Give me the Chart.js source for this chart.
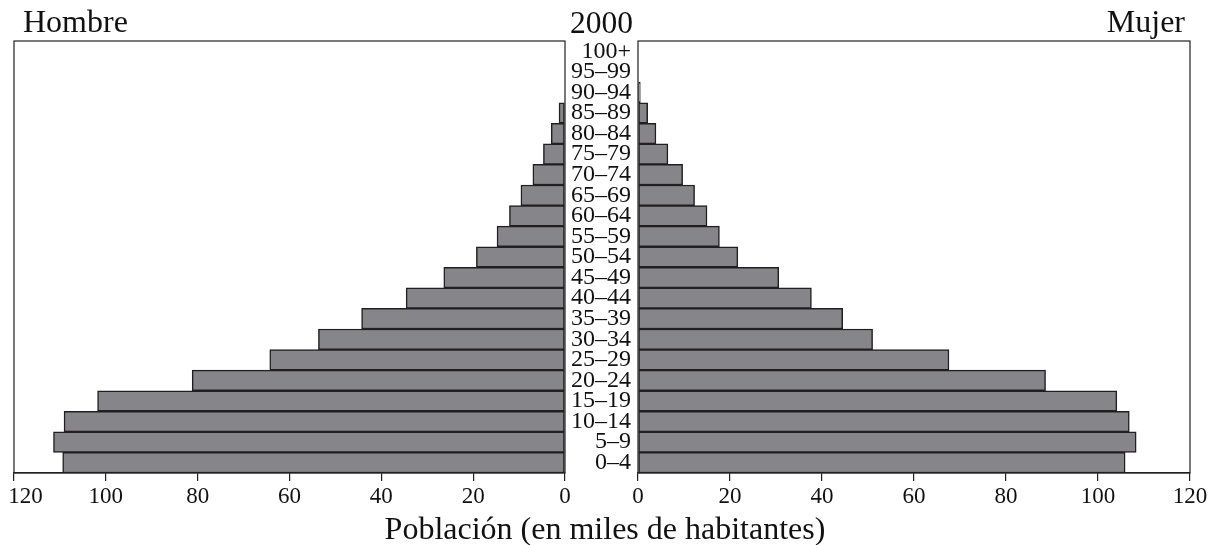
<!DOCTYPE html>
<html>
<head>
<meta charset="utf-8">
<script src="https://cdn.jsdelivr.net/npm/chart.js@4/dist/chart.umd.min.js"></script>
<style>
  body { margin: 0; background: #fff; }
  #wrap { position: relative; width: 1217px; height: 545px; overflow: hidden; font-family: "Liberation Serif", "Times New Roman", serif; color: #111; }
  canvas { position: absolute; top: 0; }
  .txt { position: absolute; white-space: nowrap; line-height: 1; }
</style>
</head>
<body>
<div id="wrap">
  <canvas id="hombre" width="580" height="545" style="left:0"></canvas>
  <canvas id="mujer" width="657" height="545" style="left:560px"></canvas>
  <div class="txt" style="left:23px; top:5px; font-size:32px">Hombre</div>
  <div class="txt" style="left:570px; top:7px; font-size:31.5px">2000</div>
  <div class="txt" style="right:32px; top:5px; font-size:32px">Mujer</div>
  <div class="txt" style="left:0; width:1210px; text-align:center; top:512px; font-size:32px">Población (en miles de habitantes)</div>
</div>
<script>
// age groups, bottom to top
var ageGroups = ["0–4","5–9","10–14","15–19","20–24","25–29","30–34","35–39","40–44","45–49",
                 "50–54","55–59","60–64","65–69","70–74","75–79","80–84","85–89","90–94","95–99","100+"];
// thousands of inhabitants
var hombres = [109.4, 111.4, 109.1, 101.8, 81.2, 64.3, 53.7, 44.3, 34.6, 26.4,
               19.3, 14.8, 12.1, 9.6, 7.0, 4.7, 3.0, 1.3, 0, 0, 0];
var mujeres = [105.9, 108.3, 106.8, 104.1, 88.6, 67.6, 51.0, 44.5, 37.7, 30.6,
               21.7, 17.7, 15.0, 12.3, 9.7, 6.5, 3.9, 2.1, 0.5, 0, 0];
var xTicks = [0, 20, 40, 60, 80, 100, 120];

var barFill = 'rgb(133,133,138)';
var lineCol = '#231f20';
var serif = "'Liberation Serif', 'Times New Roman', serif";

// draws the frame round the plot area
var frame = {
  id: 'frame',
  afterDatasetsDraw: function (chart) {
    var a = chart.chartArea, c = chart.ctx;
    c.save();
    c.strokeStyle = lineCol;
    c.lineWidth = 1.2;
    c.strokeRect(a.left, a.top, a.right - a.left, a.bottom - a.top);
    c.restore();
  }
};

function makeChart(id, values, left) {
  return new Chart(document.getElementById(id), {
    type: 'bar',
    data: {
      labels: ageGroups,
      datasets: [{
        data: values,
        backgroundColor: barFill,
        borderColor: lineCol,
        borderWidth: 1.5,
        barPercentage: 1,
        categoryPercentage: 1,
        borderSkipped: false
      }]
    },
    options: {
      indexAxis: 'y',
      responsive: false,
      animation: false,
      layout: { padding: left ? { left: 14, right: 15, top: 41, bottom: 0 } : { left: 0, right: 27, top: 41, bottom: 0 } },
      plugins: { legend: { display: false }, tooltip: { enabled: false } },
      scales: {
        x: {
          reverse: left,
          min: 0, max: 120,
          afterBuildTicks: function (s) { s.ticks = xTicks.map(function (v) { return { value: v }; }); },
          afterFit: function (s) { s.height = 72; s.paddingLeft = 0; s.paddingRight = 0; },
          grid: { drawOnChartArea: false, drawTicks: true, tickLength: 8, color: lineCol, lineWidth: 1.2 },
          border: { display: true, color: lineCol, width: 1.2 },
          ticks: {
            color: '#111', font: { family: serif, size: 23 }, padding: 2, maxRotation: 0,
            // the outer 120 on the left sits a little inside the edge
            callback: function (v) { return (left && v === 120) ? '    120' : String(v); }
          }
        },
        y: {
          reverse: true,
          position: left ? 'right' : 'left',
          afterFit: function (s) { s.width = left ? 0 : 78; s.paddingTop = 0; s.paddingBottom = 0; },
          grid: { display: false, drawTicks: false },
          border: { display: false },
          ticks: { display: !left, color: '#111', font: { family: serif, size: 24 }, padding: 7, autoSkip: false }
        }
      }
    },
    plugins: [frame]
  });
}

makeChart('hombre', hombres, true);
makeChart('mujer', mujeres, false);
</script>
</body>
</html>
